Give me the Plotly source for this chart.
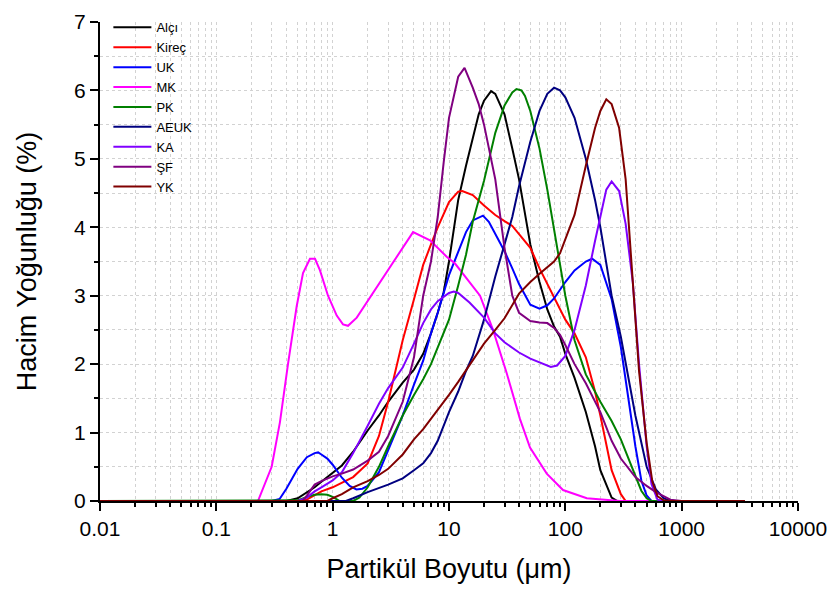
import plotly.graph_objects as go

# ---- data (particle size in µm, volume density in %) ----
ALCI_X = [0.01, 0.4, 0.5, 0.6, 0.7, 0.8, 1, 1.2, 1.5, 2, 2.5, 3, 4, 5, 6, 7, 8, 9, 10, 12, 14, 16, 18, 20, 23, 25, 30, 35, 40, 50, 60, 70, 80, 90, 100, 120, 150, 180, 200, 250, 280, 3500]
ALCI_Y = [0, 0, 0.04, 0.12, 0.2, 0.28, 0.41, 0.52, 0.72, 1.03, 1.25, 1.45, 1.73, 1.92, 2.15, 2.45, 2.75, 3.05, 3.5, 4.4, 4.9, 5.3, 5.65, 5.85, 5.99, 5.95, 5.65, 5.15, 4.7, 3.75, 3.2, 2.8, 2.55, 2.4, 2.15, 1.8, 1.3, 0.8, 0.45, 0.05, 0, 0]

KIREC_X = [0.01, 0.5, 0.6, 0.7, 0.8, 1, 1.2, 1.5, 2, 2.5, 3, 4, 5, 6, 7, 8, 10, 12, 13, 16, 20, 25, 30, 35, 40, 50, 60, 70, 80, 100, 120, 150, 180, 200, 250, 300, 330, 3500]
KIREC_Y = [0, 0, 0.02, 0.08, 0.14, 0.2, 0.27, 0.35, 0.55, 0.95, 1.45, 2.35, 2.95, 3.45, 3.75, 4.0, 4.37, 4.52, 4.53, 4.47, 4.32, 4.18, 4.09, 4.02, 3.9, 3.7, 3.4, 3.18, 2.98, 2.65, 2.45, 2.1, 1.6, 1.25, 0.45, 0.1, 0, 0]

UK_X = [0.01, 0.3, 0.35, 0.4, 0.5, 0.6, 0.7, 0.75, 0.8, 0.9, 1, 1.2, 1.4, 1.6, 1.8, 2, 2.5, 3, 4, 5, 6, 7, 8, 10, 12, 14, 16, 19.6, 22, 25, 30, 35, 40, 50, 60, 70, 80, 100, 120, 150, 170, 200, 250, 300, 350, 400, 450, 500, 550, 3500]
UK_Y = [0, 0, 0.03, 0.18, 0.47, 0.64, 0.70, 0.71, 0.68, 0.62, 0.53, 0.34, 0.22, 0.17, 0.18, 0.22, 0.42, 0.75, 1.25, 1.7, 2.05, 2.45, 2.75, 3.3, 3.65, 3.93, 4.1, 4.17, 4.08, 3.9, 3.65, 3.4, 3.17, 2.87, 2.81, 2.86, 2.96, 3.2, 3.37, 3.5, 3.54, 3.45, 2.95, 2.25, 1.45, 0.8, 0.3, 0.08, 0, 0]

MK_X = [0.01, 0.228, 0.299, 0.352, 0.413, 0.491, 0.556, 0.638, 0.705, 0.778, 0.912, 1.084, 1.227, 1.355, 1.611, 2.223, 3.30, 4.62, 4.91, 6.87, 9.55, 11.27, 15.17, 18.49, 23.9, 31.3, 40.7, 49.7, 69.2, 95.5, 153, 295, 3500]
MK_Y = [0, 0, 0.5, 1.15, 2.0, 2.85, 3.33, 3.54, 3.54, 3.37, 3.0, 2.71, 2.58, 2.56, 2.68, 3.04, 3.47, 3.86, 3.93, 3.81, 3.57, 3.47, 3.18, 3.0, 2.5, 1.87, 1.2, 0.78, 0.4, 0.16, 0.04, 0, 0]

PK_X = [0.01, 0.45, 0.5, 0.6, 0.7, 0.8, 0.9, 1, 1.15, 1.5, 1.7, 2, 2.5, 3, 4, 5, 6, 7, 8, 10, 12, 14, 16, 20, 25, 30, 35, 38, 42, 45, 50, 60, 70, 80, 100, 120, 150, 200, 250, 300, 400, 450, 500, 550, 3500]
PK_Y = [0, 0, 0.01, 0.06, 0.09, 0.1, 0.09, 0.06, 0.0, 0.0, 0.05, 0.2, 0.5, 0.8, 1.25, 1.55, 1.78, 2.0, 2.25, 2.65, 3.15, 3.6, 4.08, 4.68, 5.38, 5.78, 5.97, 6.02, 6.0, 5.92, 5.7, 5.15, 4.55, 3.95, 3.0, 2.35, 1.85, 1.45, 1.17, 0.9, 0.38, 0.15, 0.04, 0, 0]

AEUK_X = [0.01, 1.3, 1.5, 2, 3, 4, 5, 6, 7, 8, 10, 12, 14, 16, 20, 25, 30, 35, 40, 50, 60, 70, 80, 90, 100, 120, 150, 180, 200, 250, 300, 350, 400, 500, 600, 700, 800, 3500]
AEUK_Y = [0, 0, 0.04, 0.13, 0.24, 0.33, 0.45, 0.55, 0.7, 0.88, 1.3, 1.6, 1.9, 2.12, 2.65, 3.28, 3.75, 4.15, 4.6, 5.25, 5.7, 5.95, 6.04, 6.0, 5.9, 5.6, 5.0, 4.4, 4.0, 3.0, 2.4, 1.8, 1.25, 0.5, 0.17, 0.04, 0, 0]

KA_X = [0.01, 0.5, 0.6, 0.7, 0.8, 1, 1.2, 1.5, 2, 2.5, 3, 4, 5, 6, 7, 8, 10, 11, 12, 15, 20, 25, 30, 40, 50, 60, 75, 85, 100, 120, 150, 180, 200, 225, 250, 290, 330, 380, 430, 500, 550, 620, 700, 3500]
KA_Y = [0, 0, 0.05, 0.14, 0.2, 0.3, 0.42, 0.7, 1.1, 1.42, 1.65, 1.95, 2.3, 2.6, 2.8, 2.92, 3.04, 3.06, 3.04, 2.9, 2.68, 2.45, 2.32, 2.17, 2.08, 2.03, 1.96, 1.98, 2.12, 2.5, 3.15, 3.8, 4.15, 4.55, 4.67, 4.53, 4.05, 3.2, 2.0, 0.8, 0.25, 0.02, 0, 0]

SF_X = [0.01, 0.55, 0.6, 0.7, 0.8, 1, 1.2, 1.5, 2, 2.5, 3, 4, 5, 6, 7, 8, 9, 10, 12, 13.6, 16, 18, 20, 25, 30, 35, 40, 50, 60, 70, 80, 90, 100, 120, 150, 200, 250, 300, 400, 500, 600, 700, 800, 1000, 3500]
SF_Y = [0, 0, 0.08, 0.24, 0.29, 0.36, 0.4, 0.46, 0.59, 0.72, 0.95, 1.45, 2.1, 3.0, 3.5, 4.15, 4.95, 5.6, 6.2, 6.33, 6.04, 5.8, 5.5, 4.7, 3.7, 3.0, 2.75, 2.63, 2.61, 2.6, 2.53, 2.43, 2.28, 2.0, 1.72, 1.3, 0.88, 0.62, 0.35, 0.22, 0.13, 0.07, 0.02, 0, 0]

YK_X = [0.01, 0.9, 1, 1.2, 1.5, 2, 2.5, 3, 4, 5, 6, 7, 8, 10, 12, 15, 20, 25, 30, 40, 50, 60, 70, 80, 90, 100, 120, 150, 180, 200, 225, 250, 290, 330, 380, 430, 500, 560, 620, 700, 800, 3500]
YK_Y = [0, 0, 0.04, 0.1, 0.2, 0.29, 0.38, 0.47, 0.68, 0.9, 1.05, 1.2, 1.32, 1.55, 1.74, 1.98, 2.3, 2.5, 2.67, 3.03, 3.2, 3.32, 3.42, 3.5, 3.62, 3.83, 4.18, 4.9, 5.45, 5.7, 5.87, 5.8, 5.45, 4.7, 3.2, 1.9, 0.85, 0.28, 0.07, 0.01, 0, 0]

NAMES = ["Alçı", "Kireç", "UK", "MK", "PK", "AEUK", "KA", "ŞF", "YK"]
XS = [ALCI_X, KIREC_X, UK_X, MK_X, PK_X, AEUK_X, KA_X, SF_X, YK_X]
YS = [ALCI_Y, KIREC_Y, UK_Y, MK_Y, PK_Y, AEUK_Y, KA_Y, SF_Y, YK_Y]
COLORS = ["#000000", "#FF0000", "#0000FF", "#FF00FF", "#008000", "#000080", "#8000FF", "#800080", "#800000"]

X_TICKS = [0.01, 0.1, 1, 10, 100, 1000, 10000]
X_TICKTEXT = ["0.01", "0.1", "1", "10", "100", "1000", "10000"]

fig = go.Figure()
for name, xs, ys, col in zip(NAMES, XS, YS, COLORS):
    fig.add_trace(go.Scatter(x=xs, y=ys, mode="lines", name=name,
                             line=dict(color=col, width=2)))

minor_x = [k * 10 ** n for n in range(-2, 4) for k in range(2, 10)]
GRID = "#d2d2d2"

fig.update_layout(
    width=830, height=590,
    margin=dict(l=100, r=32, t=15, b=89),
    plot_bgcolor="white", paper_bgcolor="white",
    font=dict(family="Liberation Sans, Arial, sans-serif", color="black"),
    showlegend=True,
    legend=dict(x=0.012, y=1.02, xanchor="left", yanchor="top",
                bgcolor="rgba(0,0,0,0)", font=dict(size=13), tracegroupgap=0,
                itemwidth=38),
    xaxis=dict(type="log", range=[-2, 4], tickvals=X_TICKS, ticktext=X_TICKTEXT,
               automargin=False,
               ticks="outside", ticklen=8, tickwidth=1.5, tickcolor="black",
               showline=True, linecolor="black", linewidth=2,
               showgrid=True, gridcolor=GRID, griddash="dot", gridwidth=1,
               zeroline=False, tickfont=dict(size=21),
               minor=dict(tickvals=minor_x, ticks="outside", ticklen=4, tickwidth=1.5,
                          tickcolor="black", showgrid=True, gridcolor=GRID, griddash="dot"),
               title=dict(text="Partikül Boyutu (μm)", font=dict(size=27), standoff=20)),
    yaxis=dict(range=[0, 7], dtick=1, tick0=0,
               automargin=False,
               ticks="outside", ticklen=8, tickwidth=1.5, tickcolor="black",
               showline=True, linecolor="black", linewidth=2,
               showgrid=True, gridcolor=GRID, griddash="dot", gridwidth=1,
               zeroline=False, tickfont=dict(size=21),
               minor=dict(dtick=0.5, ticks="outside", ticklen=4, tickwidth=1.5,
                          tickcolor="black", showgrid=True, gridcolor=GRID, griddash="dot"),
               title=dict(text="Hacim Yoğunluğu (%)", font=dict(size=27), standoff=30)),
)

fig.write_html("out.html")
